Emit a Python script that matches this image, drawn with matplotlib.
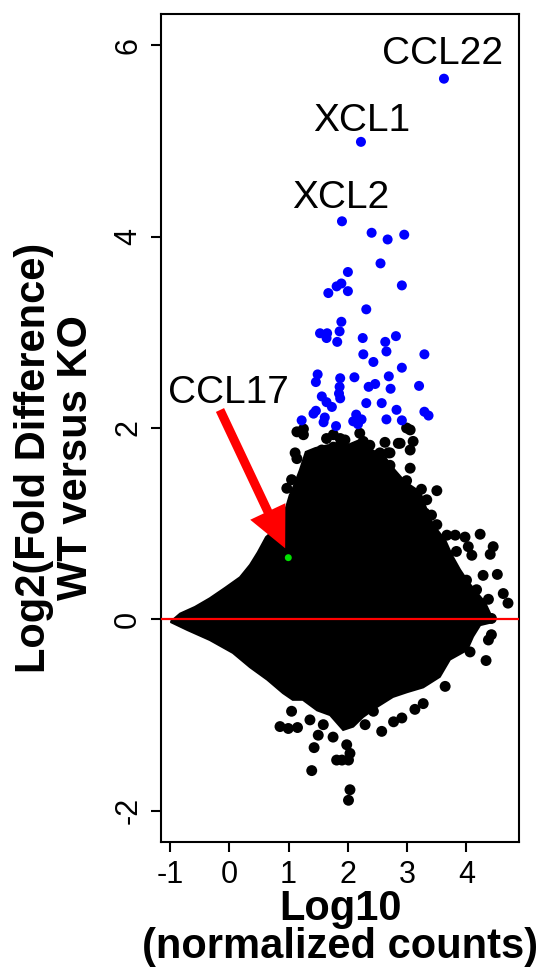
import matplotlib
matplotlib.use("Agg")
import matplotlib.pyplot as plt

plt.rcParams['font.family'] = ['Liberation Sans', 'DejaVu Sans']

# ---- data ----
# dense core of the black point cloud (outline of the solid region)
core_x = [-0.98, -0.83, -0.58, -0.33, -0.07, 0.18, 0.35, 0.48, 0.62, 0.79, 0.92, 1.02,
          1.06, 1.19, 1.29, 1.45, 1.66, 1.95, 2.20, 2.41, 2.63, 2.79, 2.96, 3.22, 3.32,
          3.435, 3.64, 3.755, 3.89, 4.03, 4.16, 4.31, 4.40, 4.43,
          4.23, 4.11, 4.01, 3.72, 3.55, 3.27, 3.00, 2.76, 2.49, 2.255, 2.09, 1.92, 1.70,
          1.48, 1.24, 1.07, 0.905, 0.64, 0.35, 0.06, -0.33, -0.71, -0.98]
core_y = [-0.02, 0.06, 0.13, 0.22, 0.33, 0.44, 0.57, 0.70, 0.86, 0.955, 1.09, 1.30,
          1.35, 1.56, 1.75, 1.79, 1.82, 1.81, 1.875, 1.77, 1.69, 1.56, 1.44, 1.33, 1.16,
          0.99, 0.83, 0.67, 0.52, 0.39, 0.29, 0.18, 0.06, -0.03,
          -0.06, -0.18, -0.32, -0.42, -0.60, -0.71, -0.76, -0.81, -0.915, -1.02, -1.12, -1.155, -1.00,
          -0.95, -0.84, -0.84, -0.77, -0.63, -0.50, -0.35, -0.215, -0.11, -0.03]

# individual black genes outside the solid core
black_x = [1.14, 1.25, 1.11, 0.97, 1.05, 1.14, 1.25, 1.415, 1.33, 1.56, 1.64, 1.755, 1.87,
           1.95, 1.755, 1.87, 1.98, 2.175, 2.20, 2.26, 2.37, 2.34, 2.625, 2.54, 2.68, 2.85,
           2.99, 3.05, 3.10, 3.05, 2.88, 2.71, 2.51, 2.71, 3.05, 2.43, 2.79, 2.99, 3.24, 3.50,
           3.33, 3.30, 3.41, 3.50, 3.67, 3.81, 3.975, 4.23, 4.03, 3.83, 4.09, 4.45, 4.40, 4.28,
           4.52, 4.00, 4.17, 4.37, 4.62, 4.70, 4.42, 4.42,
           4.33, 4.06, 3.64, 3.27, 3.13, 2.91, 2.77, 2.57, 2.43, 2.29, 1.98, 2.035, 2.01, 2.035,
           2.01, 1.90, 4.37,
           1.05, 0.855, 0.995, 1.15, 1.36, 1.585, 1.50, 1.75, 1.43, 1.81, 1.39]
black_y = [1.96, 1.99, 1.74, 1.37, 1.46, 1.68, 1.93, 1.70, 1.60, 1.77, 1.89, 1.93, 1.89,
           1.875, 1.80, 1.82, 1.75, 1.74, 1.945, 1.86, 1.82, 1.70, 1.85, 1.74, 1.74, 1.84,
           2.00, 1.98, 1.86, 1.77, 1.84, 1.74, 1.72, 1.61, 1.58, 1.58, 1.47, 1.45, 1.36, 1.345,
           1.25, 1.11, 1.09, 0.99, 0.88, 0.88, 0.86, 0.89, 0.76, 0.71, 0.67, 0.76, 0.68, 0.46,
           0.47, 0.41, 0.31, 0.21, 0.27, 0.17, 0.01, -0.16,
           -0.43, -0.34, -0.70, -0.88, -0.94, -1.03, -1.07, -1.17, -0.96, -1.10, -1.31, -1.40, -1.47, -1.78,
           -1.89, -1.47, -0.215,
           -0.96, -1.12, -1.14, -1.13, -1.05, -1.10, -1.21, -1.23, -1.34, -1.47, -1.58]

# significantly up-regulated genes (blue)
blue_x = [3.62, 2.22, 1.90, 2.40, 2.67, 2.95, 2.55, 2.00, 1.89, 1.81, 1.67, 2.00, 2.91, 2.31,
          1.89, 1.53, 1.65, 1.64, 1.86, 1.82, 2.25, 2.81, 2.63, 2.65, 2.26, 2.43, 3.29, 2.91,
          1.49, 1.46, 1.87, 2.11, 2.69, 1.86, 2.35, 2.46, 2.72, 3.20, 1.85, 1.56, 1.87, 1.64,
          1.73, 2.31, 2.57, 1.46, 1.42, 2.82, 3.29, 3.36, 1.61, 2.14, 2.09, 2.23, 2.17, 2.65,
          2.91, 1.22, 1.80, 1.59]
blue_y = [5.65, 4.99, 4.16, 4.04, 3.97, 4.02, 3.72, 3.63, 3.51, 3.48, 3.41, 3.43, 3.49, 3.24,
          3.11, 2.99, 2.99, 2.94, 3.01, 2.90, 2.94, 2.96, 2.90, 2.80, 2.77, 2.69, 2.77, 2.63,
          2.56, 2.48, 2.52, 2.53, 2.54, 2.43, 2.43, 2.46, 2.41, 2.44, 2.36, 2.33, 2.31, 2.27,
          2.22, 2.26, 2.26, 2.18, 2.15, 2.19, 2.17, 2.13, 2.11, 2.14, 2.07, 2.09, 2.04, 2.09,
          2.08, 2.08, 2.02, 2.06]

# highlighted gene
green_x = [0.995]
green_y = [0.645]

# gene labels: (text, x centre, baseline y)
label_text = ['CCL22', 'XCL1', 'XCL2', 'CCL17']
label_x = [3.595, 2.23, 1.875, -0.02]
label_y = [5.804, 5.107, 4.296, 2.261]

# arrow from label to CCL17
arrow_tail = (-0.157, 2.188)
arrow_tip = (0.942, 0.743)

x_ticks = [-1, 0, 1, 2, 3, 4]
y_ticks = [-2, 0, 2, 4, 6]

# ---- figure ----
fig = plt.figure(figsize=(5.46, 9.69), dpi=100)
ax = fig.add_axes([0.2954, 0.13107, 0.9505 - 0.2954, 0.98555 - 0.13107])

ax.fill(core_x, core_y, color='black', lw=1.5, zorder=2)
ax.scatter(black_x, black_y, s=62, color='black', edgecolors='none', zorder=2)
ax.axhline(0, color='#ff0000', lw=1.6, zorder=3)
ax.scatter(blue_x, blue_y, s=52, color='#0000ff', edgecolors='none', zorder=4)
ax.scatter(green_x, green_y, s=25, color='#00e000', edgecolors='none', zorder=5)

for t, x, y in zip(label_text, label_x, label_y):
    ax.text(x, y, t, ha='center', va='baseline', fontsize=28, zorder=6)

ax.annotate('', xy=arrow_tip, xytext=arrow_tail,
            arrowprops=dict(arrowstyle='simple,head_length=2.93,head_width=2.8,tail_width=0.65',
                            color='#ff0000', mutation_scale=10, shrinkA=0, shrinkB=0, lw=0),
            zorder=7)

ax.set_xlim(-1.147, 4.885)
ax.set_ylim(-2.326, 6.326)
ax.set_xticks(x_ticks)
ax.set_yticks(y_ticks)
ax.set_xticklabels([str(v) for v in x_ticks])
ax.set_yticklabels([str(v) for v in y_ticks], rotation=90, va='center')
ax.tick_params(axis='both', direction='out', length=7, width=1.5, labelsize=22, pad=6)
for sp in ax.spines.values():
    sp.set_linewidth(1.5)

# axis titles
fig.text(340 / 546, 1 - 920 / 969, 'Log10', ha='center', va='baseline',
         fontsize=30, fontweight='bold')
fig.text(340 / 546, 1 - 958 / 969, '(normalized counts)', ha='center', va='baseline',
         fontsize=30, fontweight='bold')
fig.text(45 / 546, 1 - 457.5 / 969, 'Log2(Fold Difference)', ha='center', va='baseline',
         rotation=90, rotation_mode='anchor', fontsize=30, fontweight='bold')
fig.text(87.3 / 546, 1 - 457.5 / 969, 'WT versus KO', ha='center', va='baseline',
         rotation=90, rotation_mode='anchor', fontsize=30, fontweight='bold')

fig.savefig('out.png', dpi=100)
